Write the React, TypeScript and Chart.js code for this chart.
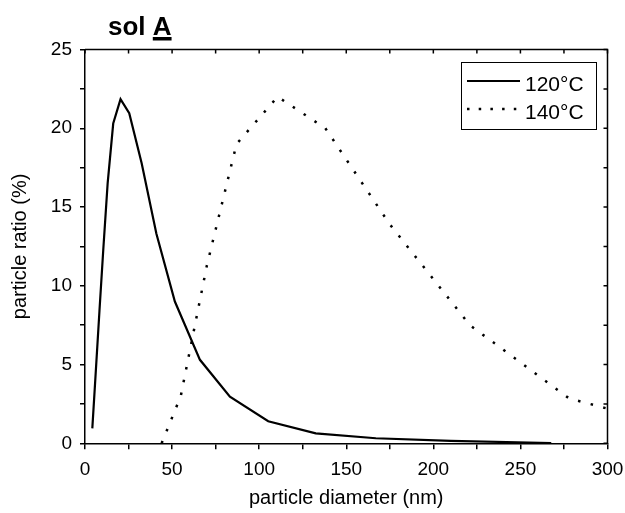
import React, { useEffect, useRef } from 'react';
import { Chart, registerables } from 'chart.js';

Chart.register(...registerables);

// 120°C series
const diam120 = [4.2, 5.5, 8.3, 10.5, 13, 16.2, 20.4, 25.4, 32.5, 41, 51.6, 66, 83.2, 105.2, 132.5, 167, 210, 267.7];
const ratio120 = [0.95, 3.3, 8.4, 12.3, 16.5, 20.3, 21.85, 20.95, 17.8, 13.3, 9.0, 5.3, 2.96, 1.4, 0.63, 0.32, 0.16, 0.02];
// 140°C series
const diam140 = [44, 55, 70, 87, 110.6, 138, 175, 221, 278, 300];
const ratio140 = [0, 3.0, 11.3, 19.0, 22.0, 20.0, 13.9, 7.5, 2.85, 2.2];

const seriesLabels = ['120°C', '140°C'];
const xLabelValues = [0, 50, 100, 150, 200, 250, 300];
const yLabelValues = [0, 5, 10, 15, 20, 25];

const FONT = "'Liberation Sans', Arial, Helvetica, sans-serif";

const framePlugin = {
  id: 'frame',
  afterDraw(chart: any) {
    const { ctx, chartArea: a, scales } = chart;
    ctx.save();
    ctx.strokeStyle = '#000';
    ctx.lineWidth = 1.5;
    ctx.beginPath();
    ctx.moveTo(a.left, a.top);
    ctx.lineTo(a.right, a.top);
    ctx.lineTo(a.right, a.bottom);
    ctx.stroke();
    ctx.beginPath();
    scales.x.ticks.forEach((t: any) => {
      const px = scales.x.getPixelForValue(t.value);
      ctx.moveTo(px, a.top);
      ctx.lineTo(px, a.top + 4);
    });
    scales.y.ticks.forEach((t: any) => {
      const py = scales.y.getPixelForValue(t.value);
      ctx.moveTo(a.right, py);
      ctx.lineTo(a.right - 4, py);
    });
    ctx.stroke();

    // Title "sol A" with underlined A
    ctx.fillStyle = '#000';
    ctx.font = `bold 26px ${FONT}`;
    ctx.textBaseline = 'alphabetic';
    ctx.textAlign = 'left';
    const tx = 108;
    const ty = 35;
    const w1 = ctx.measureText('sol ').width;
    ctx.fillText('sol ', tx, ty);
    ctx.fillText('A', tx + w1, ty);
    const wA = ctx.measureText('A').width;
    ctx.fillRect(tx + w1, ty + 2, wA, 3.5);

    // Legend
    const lx = 461, ly = 62, lw = 135, lh = 67;
    ctx.lineWidth = 1;
    ctx.strokeRect(lx + 0.5, ly + 0.5, lw, lh);
    const ds = chart.data.datasets;
    const rows = [81, 109];
    ctx.font = `21px ${FONT}`;
    ds.forEach((d: any, i: number) => {
      const y = rows[i];
      ctx.beginPath();
      ctx.lineWidth = d.borderWidth;
      ctx.setLineDash(d.borderDash && d.borderDash.length ? [2.5, 9.2] : []);
      ctx.moveTo(467, y);
      ctx.lineTo(520, y);
      ctx.stroke();
      ctx.setLineDash([]);
      ctx.fillText(d.label, 525, y + 9.5);
    });
    ctx.restore();
  },
};

export default function App() {
  const ref = useRef<HTMLCanvasElement>(null);
  useEffect(() => {
    document.body.style.margin = '0';
    const chart = new Chart(ref.current!, {
      type: 'scatter',
      data: {
        datasets: [
          {
            label: seriesLabels[0],
            data: diam120.map((x, i) => ({ x, y: ratio120[i] })),
            showLine: true,
            borderColor: '#000',
            borderWidth: 2.2,
            pointRadius: 0,
            borderDash: [],
          },
          {
            label: seriesLabels[1],
            data: diam140.map((x, i) => ({ x, y: ratio140[i] })),
            showLine: true,
            borderColor: '#000',
            borderWidth: 2.5,
            pointRadius: 0,
            borderDash: [2.5, 10.5],
          },
        ],
      },
      options: {
        animation: false,
        responsive: false,
        layout: { padding: { top: 49.5, right: 17.5, left: 0, bottom: 0 } },
        plugins: { legend: { display: false }, tooltip: { enabled: false }, title: { display: false } },
        scales: {
          x: {
            type: 'linear',
            min: 0,
            max: 300,
            afterFit: (s: any) => { s.height = 69.7; s.paddingLeft = 0; s.paddingRight = 0; },
            border: { display: true, color: '#000', width: 1.5 },
            grid: { display: true, drawOnChartArea: false, drawTicks: true, tickLength: 6, color: '#000', lineWidth: 1.5 },
            ticks: {
              stepSize: 25,
              autoSkip: false,
              maxRotation: 0,
              color: '#000',
              font: { family: FONT, size: 19 },
              padding: 9,
              callback: (v: any) => (xLabelValues.includes(Number(v)) ? String(v) : ''),
            },
            title: { display: true, text: 'particle diameter (nm)', color: '#000', font: { family: FONT, size: 20 }, padding: { top: 0, bottom: 3 } },
          },
          y: {
            type: 'linear',
            min: 0,
            max: 25,
            afterFit: (s: any) => { s.width = 85; s.paddingTop = 0; s.paddingBottom = 0; },
            border: { display: true, color: '#000', width: 1.5 },
            grid: { display: true, drawOnChartArea: false, drawTicks: true, tickLength: 5, color: '#000', lineWidth: 1.5 },
            ticks: {
              stepSize: 2.5,
              autoSkip: false,
              color: '#000',
              font: { family: FONT, size: 19 },
              padding: 8,
              callback: (v: any) => (yLabelValues.includes(Number(v)) ? String(v) : ''),
            },
            title: { display: true, text: 'particle ratio (%)', color: '#000', font: { family: FONT, size: 20 }, padding: { top: 8, bottom: 0 } },
          },
        },
      },
      plugins: [framePlugin],
    });
    return () => chart.destroy();
  }, []);
  return (
    <div style={{ width: 625, height: 513 }}>
      <canvas ref={ref} width={625} height={513} />
    </div>
  );
}
